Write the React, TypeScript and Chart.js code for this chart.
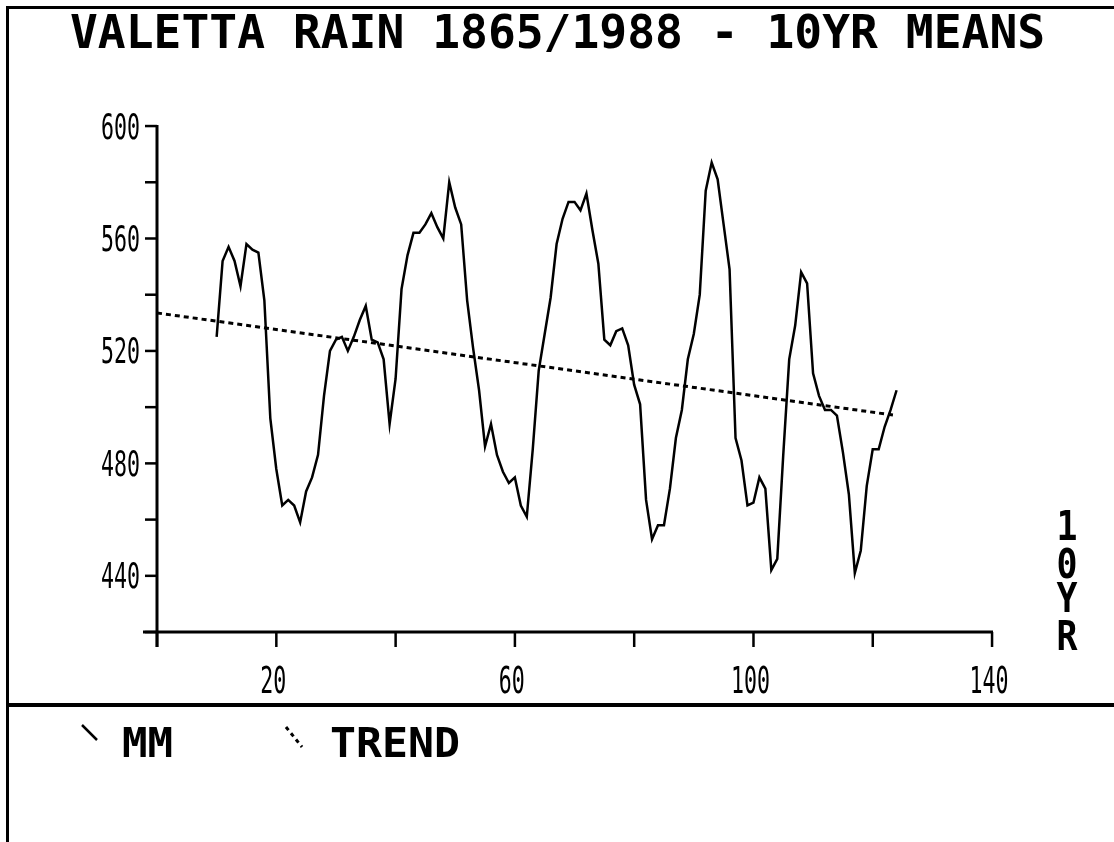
import React, { useEffect, useRef } from "react";
import { Chart, registerables } from "chart.js";

Chart.register(...registerables);

const TITLE = "VALETTA RAIN 1865/1988 - 10YR MEANS";

const years = [
  10, 11, 12, 13, 14, 15, 16, 17, 18, 19, 20, 21, 22, 23, 24, 25, 26, 27, 28, 29,
  30, 31, 32, 33, 34, 35, 36, 37, 38, 39, 40, 41, 42, 43, 44, 45, 46, 47, 48, 49,
  50, 51, 52, 53, 54, 55, 56, 57, 58, 59, 60, 61, 62, 63, 64, 65, 66, 67, 68, 69,
  70, 71, 72, 73, 74, 75, 76, 77, 78, 79, 80, 81, 82, 83, 84, 85, 86, 87, 88, 89,
  90, 91, 92, 93, 94, 95, 96, 97, 98, 99, 100, 101, 102, 103, 104, 105, 106, 107, 108, 109,
  110, 111, 112, 113, 114, 115, 116, 117, 118, 119, 120, 121, 122, 123, 124,
];

const mmValues = [
  525, 552, 557, 552, 543, 558, 556, 555, 538, 496, 478, 465, 467, 465, 459, 470, 475, 483, 504, 520,
  524, 525, 520, 525, 531, 536, 524, 523, 517, 494, 510, 542, 554, 562, 562, 565, 569, 564, 560, 580,
  571, 565, 538, 521, 506, 486, 494, 483, 477, 473, 475, 465, 461, 485, 513, 526, 539, 558, 567, 573,
  573, 570, 576, 563, 551, 524, 522, 527, 528, 522, 508, 501, 467, 453, 458, 458, 471, 489, 499, 517,
  526, 540, 577, 587, 581, 565, 549, 489, 481, 465, 466, 475, 471, 442, 446, 483, 517, 529, 548, 544,
  512, 504, 499, 499, 497, 484, 469, 441, 449, 472, 485, 485, 493, 499, 506,
];

const trendYears = [0, 124];
const trendValues = [533.5, 497];

const xTickValues = [0, 20, 40, 60, 80, 100, 120, 140];
const xTickLabels = [20, 60, 100, 140];
const yTickValues = [420, 440, 460, 480, 500, 520, 540, 560, 580, 600];
const yTickLabels = [440, 480, 520, 560, 600];
const legendLabels = ["MM", "TREND"];
const sideLabel = ["1", "0", "Y", "R"];

const W = 1114;
const H = 842;
const INK = "#000";

function fitText(
  ctx: CanvasRenderingContext2D,
  text: string,
  x: number,
  baseline: number,
  font: string,
  perChar: number,
  align: "left" | "center" | "right"
) {
  ctx.save();
  ctx.font = font;
  ctx.textAlign = "left";
  ctx.textBaseline = "alphabetic";
  const natural = ctx.measureText(text).width || 1;
  const target = perChar * text.length;
  const sx = target / natural;
  const left = align === "center" ? x - target / 2 : align === "right" ? x - target : x;
  ctx.translate(left, baseline);
  ctx.scale(sx, 1);
  ctx.fillStyle = INK;
  ctx.fillText(text, 0, 0);
  ctx.restore();
}

const decorPlugin = {
  id: "decor",
  afterDraw(chart: any) {
    const ctx: CanvasRenderingContext2D = chart.ctx;
    const xs = chart.scales.x;
    const ys = chart.scales.y;
    ctx.save();
    ctx.fillStyle = INK;

    // frame
    ctx.fillRect(7, 6, W - 7, 3);
    ctx.fillRect(6, 6, 3, H - 6);
    ctx.fillRect(7, 703, W - 7, 4);

    // title
    fitText(ctx, TITLE, 70, 48, "bold 46px 'DejaVu Sans Mono'", 27.86, "left");

    // axes
    const x0 = xs.getPixelForValue(0);
    const xEnd = xs.getPixelForValue(140);
    const yTop = ys.getPixelForValue(600);
    const yBot = ys.getPixelForValue(420);
    ctx.fillRect(x0 - 1.5, yTop - 1, 3, yBot - yTop + 16);
    ctx.fillRect(x0 - 14, yBot - 1.5, xEnd - x0 + 15, 3);

    yTickValues.forEach((v) => {
      const py = ys.getPixelForValue(v);
      ctx.fillRect(x0 - 12, py - 1.2, 12, 2.5);
    });
    yTickLabels.forEach((v) => {
      const py = ys.getPixelForValue(v);
      fitText(ctx, String(v), 140, py + 12.5, "35px 'DejaVu Sans Mono'", 13, "right");
    });

    xTickValues.forEach((v) => {
      const px = xs.getPixelForValue(v);
      ctx.fillRect(px - 1.2, yBot, 2.5, 15);
    });
    xTickLabels.forEach((v) => {
      const px = xs.getPixelForValue(v);
      fitText(ctx, String(v), px - 3, 693, "37px 'DejaVu Sans Mono'", 13, "center");
    });

    // side label "10YR"
    const sideBaselines = [540, 578, 612, 650];
    sideLabel.forEach((c, i) => {
      fitText(ctx, c, 1067, sideBaselines[i], "bold 41px 'DejaVu Sans Mono'", 21, "center");
    });

    // legend
    ctx.strokeStyle = INK;
    ctx.lineWidth = 2.5;
    ctx.setLineDash([]);
    ctx.beginPath();
    ctx.moveTo(82, 725);
    ctx.lineTo(97, 740);
    ctx.stroke();
    fitText(ctx, legendLabels[0], 122, 757, "bold 41px 'DejaVu Sans Mono'", 25.5, "left");

    ctx.lineWidth = 3;
    ctx.setLineDash([4, 4]);
    ctx.beginPath();
    ctx.moveTo(286, 727);
    ctx.lineTo(302, 747);
    ctx.stroke();
    ctx.setLineDash([]);
    fitText(ctx, legendLabels[1], 330, 757, "bold 41px 'DejaVu Sans Mono'", 26, "left");

    ctx.restore();
  },
};

export default function App() {
  const ref = useRef<HTMLCanvasElement | null>(null);

  useEffect(() => {
    const canvas = ref.current;
    if (!canvas) return;
    const mmData = years.map((yr, i) => ({ x: yr, y: mmValues[i] }));
    const trendData = trendYears.map((yr, i) => ({ x: yr, y: trendValues[i] }));

    const chart = new Chart(canvas, {
      type: "line",
      data: {
        datasets: [
          {
            label: legendLabels[0],
            data: mmData,
            borderColor: INK,
            borderWidth: 2.5,
            pointRadius: 0,
            tension: 0,
            fill: false,
          },
          {
            label: legendLabels[1],
            data: trendData,
            borderColor: INK,
            borderWidth: 3,
            borderDash: [5, 4],
            pointRadius: 0,
            tension: 0,
            fill: false,
          },
        ],
      },
      options: {
        animation: false,
        responsive: false,
        devicePixelRatio: 1,
        layout: { padding: { left: 157, right: W - 992, top: 126, bottom: H - 632 } },
        scales: {
          x: { type: "linear", min: 0, max: 140, display: false },
          y: { type: "linear", min: 420, max: 600, display: false },
        },
        plugins: {
          legend: { display: false },
          title: { display: false },
          tooltip: { enabled: false },
        },
      },
      plugins: [decorPlugin],
    });
    return () => chart.destroy();
  }, []);

  return (
    <div style={{ position: "absolute", left: 0, top: 0, width: W, height: H, background: "#fff" }}>
      <canvas ref={ref} width={W} height={H} style={{ display: "block", width: W, height: H }} />
    </div>
  );
}
